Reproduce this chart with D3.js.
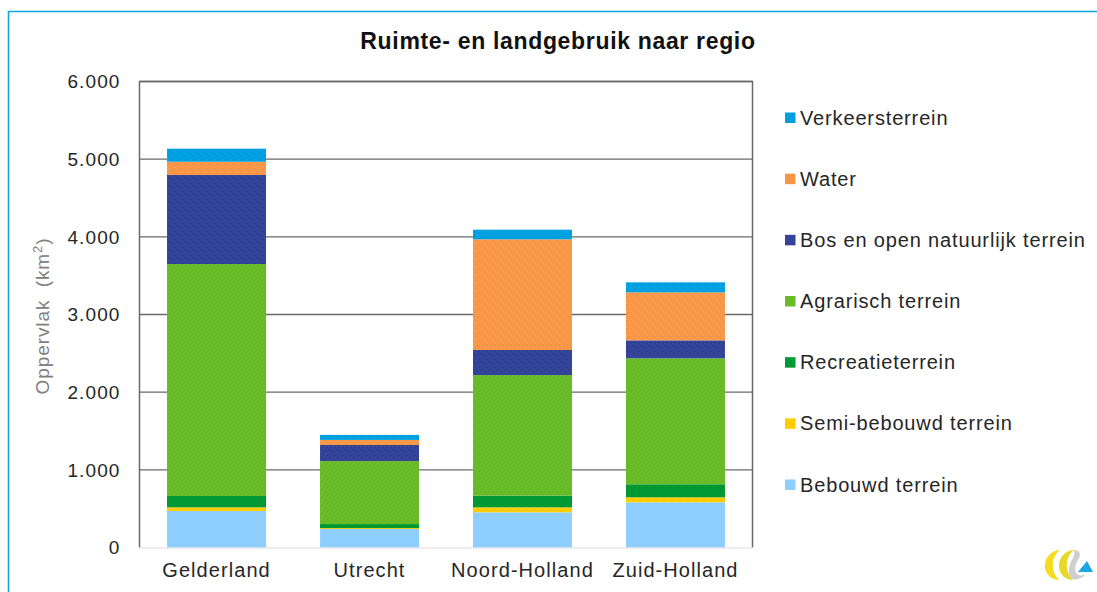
<!DOCTYPE html>
<html>
<head>
<meta charset="utf-8">
<script src="https://cdn.jsdelivr.net/npm/d3@7"></script>
<style>
  html, body { margin: 0; padding: 0; background: #fff; }
  svg { display: block; }
  text { font-family: "Liberation Sans", Arial, sans-serif; fill: #262626; }
</style>
</head>
<body>
<svg id="chart" width="1097" height="592"></svg>
<script>
/* DATA, in km2 */
const regions = ["Gelderland", "Utrecht", "Noord-Holland", "Zuid-Holland"];
const bebouwd = [470, 238, 453, 582];
const semiBebouwd = [47, 12, 64, 64];
const recreatie = [146, 52, 150, 168];
const agrarisch = [2987, 811, 1553, 1622];
const bos = [1146, 207, 323, 231];
const water = [171, 65, 1425, 618];
const verkeer = [168, 65, 124, 129];
const yTicks = [0, 1000, 2000, 3000, 4000, 5000, 6000];

const seriesNames = ["Bebouwd terrein", "Semi-bebouwd terrein", "Recreatieterrein", "Agrarisch terrein",
  "Bos en open natuurlijk terrein", "Water", "Verkeersterrein"];
const seriesValues = [bebouwd, semiBebouwd, recreatie, agrarisch, bos, water, verkeer];
const seriesColors = ["#8fcfff", "#ffcc00", "#009933", "#69bb28", "#334499", "#f79646", "#00a0e0"];
const dotColors = ["#b8b8f0", "#ffdd44", "#007a28", "#7f9a3a", "#26367f", "#ffb060", "#1aa8e8"];

/* LAYOUT */
const plot = { left: 139.5, right: 752.5, top: 81.5, bottom: 547.5 };

const svg = d3.select("#chart");

// dithered look of the bars
const defs = svg.append("defs");
seriesColors.forEach((c, i) => {
  const p = defs.append("pattern")
    .attr("id", "dither" + i)
    .attr("patternUnits", "userSpaceOnUse")
    .attr("width", 8).attr("height", 8);
  p.append("rect").attr("width", 8).attr("height", 8).attr("fill", c);
  [[1, 1], [5, 3], [3, 6], [7, 7]].forEach(d => {
    p.append("rect").attr("x", d[0]).attr("y", d[1])
      .attr("width", 1).attr("height", 1)
      .attr("fill", dotColors[i]);
  });
});

// light blue frame, only left and top are in view
svg.append("path")
  .attr("d", "M8.5,592V11.5H1097")
  .attr("fill", "none")
  .attr("stroke", "#12a5ea")
  .attr("stroke-width", 1.6);

svg.append("text")
  .attr("x", 558).attr("y", 49)
  .attr("text-anchor", "middle")
  .attr("font-size", 23)
  .attr("letter-spacing", 0.67)
  .attr("font-weight", "bold")
  .style("fill", "#111")
  .text("Ruimte- en landgebruik naar regio");

/* SCALES */
const x = d3.scaleBand()
  .domain(regions)
  .range([plot.left, plot.right])
  .paddingInner(0.353)
  .paddingOuter(0.18);

const y = d3.scaleLinear()
  .domain([0, 6000])
  .range([plot.bottom, plot.top]);

const nl = d3.formatLocale({ decimal: ",", thousands: ".", grouping: [3], currency: ["€", ""] });

// gridlines first, bars go on top of them
svg.append("g")
  .selectAll("line")
  .data(yTicks.filter(d => d > 0))
  .enter()
  .append("line")
  .attr("x1", plot.left).attr("x2", plot.right)
  .attr("y1", d => y(d)).attr("y2", d => y(d))
  .attr("stroke", "#6a6a6a")
  .attr("stroke-width", 1.4);

/* STACKED BARS */
const rows = regions.map((r, i) => {
  const row = { region: r };
  seriesNames.forEach((s, j) => { row[s] = seriesValues[j][i]; });
  return row;
});
const stacked = d3.stack().keys(seriesNames)(rows);

svg.append("g")
  .selectAll("g")
  .data(stacked)
  .enter()
  .append("g")
  .attr("fill", (d, i) => "url(#dither" + i + ")")
  .selectAll("rect")
  .data(d => d)
  .enter()
  .append("rect")
  .attr("x", d => x(d.data.region))
  .attr("width", x.bandwidth())
  .attr("y", d => y(d[1]))
  .attr("height", d => y(d[0]) - y(d[1]));

/* AXES */
const yAxis = svg.append("g")
  .attr("transform", "translate(" + plot.left + ",0)")
  .call(d3.axisLeft(y).tickValues(yTicks).tickSize(0).tickPadding(19).tickFormat(nl.format(",")));
yAxis.select(".domain").remove();
yAxis.selectAll("text")
  .attr("font-size", 19)
  .attr("letter-spacing", 1.1)
  .attr("dy", "0.33em");

const xAxis = svg.append("g")
  .attr("transform", "translate(0," + plot.bottom + ")")
  .call(d3.axisBottom(x).tickSize(0).tickPadding(15));
xAxis.select(".domain").remove();
xAxis.selectAll("text")
  .attr("font-size", 20)
  .attr("letter-spacing", 1.06);

// plot frame: dark on three sides, pale along the bottom
svg.append("path")
  .attr("d", "M" + plot.left + "," + plot.bottom + "V" + plot.top + "H" + plot.right + "V" + plot.bottom)
  .attr("fill", "none")
  .attr("stroke", "#6a6a6a")
  .attr("stroke-width", 1.5);
svg.append("line")
  .attr("x1", plot.left).attr("x2", plot.right)
  .attr("y1", plot.bottom + 0.5).attr("y2", plot.bottom + 0.5)
  .attr("stroke", "#ddd")
  .attr("stroke-width", 1.2);

const yTitle = svg.append("text")
  .attr("transform", "translate(48.5,316) rotate(-90)")
  .attr("text-anchor", "middle")
  .attr("font-size", 19)
  .attr("letter-spacing", 0.9)
  .attr("xml:space", "preserve")
  .style("fill", "#808080");
yTitle.append("tspan").style("fill", "#808080").text("Oppervlak  (km");
yTitle.append("tspan").style("fill", "#808080").attr("font-size", 13).attr("dy", -7).text("2");
yTitle.append("tspan").style("fill", "#808080").attr("dy", 7).text(")");

/* LEGEND - top to bottom is the reverse of the stack */
const legendY = d3.scalePoint()
  .domain(seriesNames.slice().reverse())
  .range([118, 485]);

const legend = svg.append("g")
  .selectAll("g")
  .data(seriesNames)
  .enter()
  .append("g")
  .attr("transform", d => "translate(785," + legendY(d) + ")");

legend.append("rect")
  .attr("y", -5.5)
  .attr("width", 10.5).attr("height", 10.5)
  .attr("fill", (d, i) => seriesColors[i]);

legend.append("text")
  .attr("x", 15)
  .attr("dy", "0.33em")
  .attr("font-size", 20)
  .attr("letter-spacing", 0.85)
  .text(d => d);

/* LOGO, bottom right */
const logo = svg.append("g").attr("transform", "translate(1063,565)");
const swirl = "M-5,-15C-14,-13,-19,-5,-18,3C-17,10,-11,15,-4,15C-9,10,-11,3,-10,-3C-9,-8,-6,-13,-3,-15Z";
logo.append("path").attr("d", swirl).attr("fill", "#f4dc1e");
logo.append("path").attr("d", swirl).attr("transform", "translate(14,0)").attr("fill", "#e8d82a");
logo.append("path")
  .attr("d", "M11,-15C17,-15,18,-11,16,-7C13,-2,11,3,13,8C15,11,19,11,23,9C19,14,12,16,8,13C4,8,6,-1,10,-7C11,-10,12,-13,11,-15Z")
  .attr("fill", "#cfcfcf");
logo.append("path")
  .attr("d", "M15,7L24,-4L30,7Z")
  .attr("fill", "#1da5e8");
</script>
</body>
</html>
